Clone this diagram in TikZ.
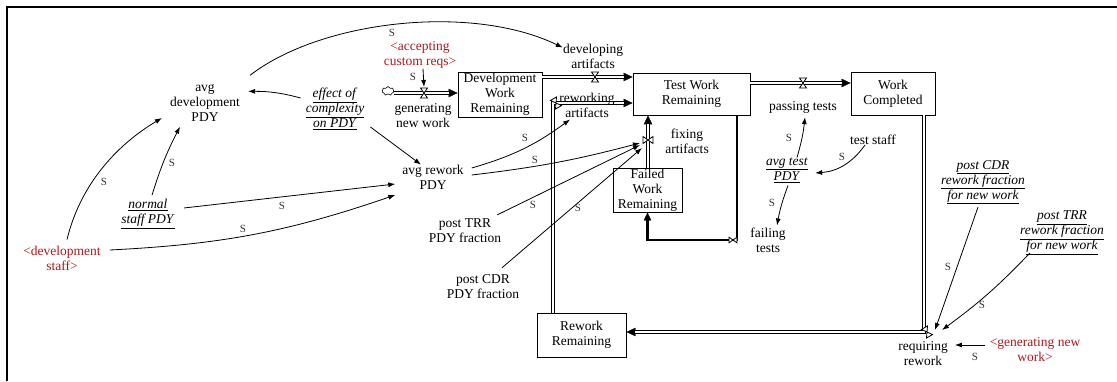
\documentclass[tikz,border=0pt]{standalone}
\usepackage{fontspec}
\setmainfont{Liberation Serif}
\usetikzlibrary{arrows.meta,shapes.symbols,calc}
\definecolor{shadowred}{RGB}{170,25,30}
\newcommand{\ulit}[1]{\underline{\textit{#1}}}
\begin{document}
\begin{tikzpicture}[x=1pt,y=1pt,
  every node/.style={font=\fontsize{13.5}{15}\selectfont, inner sep=0pt, align=center},
  stock/.style={draw, line width=.9pt, fill=white},
  shadowvar/.style={text=shadowred},
  info/.style={draw, line width=.8pt, -{Latex[length=7pt,width=5pt]}},
  pol/.style={font=\fontsize{11}{12}\selectfont, text=black!80},
  pipe/.style={line width=4pt, line join=miter, -{Triangle[length=9pt,width=8.5pt,line width=.4pt]},
    postaction={draw=white, line width=1.8pt, -, shorten >=9pt}},
  valve/.pic={\draw[line width=.8pt, fill=white] (-3.5,5) -- (3.5,5) -- (-3.5,-5) -- (3.5,-5) -- cycle;},
]
\useasboundingbox (0,0) rectangle (1117,381);
% frame
\draw[line width=2.6pt, line join=miter] (7,0) -- (7,374) -- (1117,374);

% stocks
\node[stock, minimum width=84pt, minimum height=45pt] (devwr) at (500,286.5) {Development\\Work\\Remaining};
\node[stock, minimum width=117pt, minimum height=42pt] (testwr) at (691.5,287) {Test Work\\Remaining};
\node[stock, minimum width=84pt, minimum height=43pt] (wc) at (893,287.5) {Work\\Completed};
\node[stock, minimum width=69pt, minimum height=44pt] (failed) at (647.5,191) {Failed\\Work\\Remaining};
\node[stock, minimum width=89pt, minimum height=44pt] (rework) at (581.5,46) {Rework\\Remaining};
\node[cloud, cloud puffs=7, draw, line width=.6pt, minimum width=12pt, minimum height=9pt, aspect=1.4] (cloud) at (388,290) {};

% valve positions
\coordinate (vgen) at (424,288);
\coordinate (vdev) at (595,304);
\coordinate (vrew) at (553,278);
\coordinate (vfix) at (648,241);
\coordinate (vpass) at (803,298);
\coordinate (vreq) at (924,49);
\coordinate (vfail) at (737,141);

% pipes
\draw[pipe] (cloud.east |- vgen) -- (devwr.west |- vgen);
\draw[pipe] (devwr.east |- vdev) -- (testwr.west |- vdev);
\draw[pipe] (rework.north -| vrew) -- (vrew) -- (testwr.west |- vrew);
\draw[pipe] (failed.north -| vfix) -- (testwr.south -| vfix);
\draw[pipe] (testwr.east |- vpass) -- (wc.west |- vpass);
\draw[pipe] (wc.south -| vreq) -- (vreq) -- (rework.east |- vreq);
\draw[line width=2.4pt, line join=miter, -{Triangle[length=8pt,width=7.5pt,line width=.4pt]}]
  (testwr.south -| vfail) -- (vfail) -- (failed.south |- vfail) -- (failed.south);

\pic at (vgen) {valve};
\pic at (vdev) {valve};
\pic[rotate=30] at ([xshift=3pt]vrew) {valve};
\pic[rotate=90] at (vfix) {valve};
\pic at (vpass) {valve};
\pic[rotate=30] at ([xshift=3pt]vreq) {valve};
\pic[rotate=90, scale=.8] at ([xshift=-4pt]vfail) {valve};

% flow labels
\node (lgen) at (423,265) {generating\\new work};
\node (ldev) at (593,325) {developing\\artifacts};
\node (lrew) at (587,276) {reworking\\artifacts};
\node (lfix) at (687,240) {fixing\\artifacts};
\node (lpass) at (803,274) {passing tests};
\node (lfail) at (768,141) {failing\\tests};
\node (lreq) at (923,27) {requiring\\rework};

% auxiliaries
\node (avgdev) at (205,278) {avg\\development\\PDY};
\node (effect) at (335,272) {\ulit{effect of}\\\ulit{complexity}\\\ulit{on PDY}};
\node (avgrework) at (433,204) {avg rework\\PDY};
\node[shadowvar] (accept) at (420,326) {<accepting\\custom reqs>};
\node (teststaff) at (873,241) {test staff};
\node (avgtest) at (787,211) {\ulit{avg test}\\\ulit{PDY}};
\node (postcdrrf) at (983,199) {\ulit{post CDR}\\\ulit{rework fraction}\\\ulit{for new work}};
\node (posttrrrf) at (1062,148) {\ulit{post TRR}\\\ulit{rework fraction}\\\ulit{for new work}};
\node[shadowvar] (gennewsh) at (1035,31) {<generating new\\work>};
\node (normal) at (148,167) {\ulit{normal}\\\ulit{staff PDY}};
\node[shadowvar] (devstaff) at (62,123) {<development\\staff>};
\node (posttrr) at (465,150) {post TRR\\PDY fraction};
\node (postcdr) at (483,94) {post CDR\\PDY fraction};

% information links
\draw[info] ([shift={(10pt,9pt)}]avgdev.north east) .. controls (320,360) and (470,378) .. ([yshift=-4pt]ldev.north west);
\node[pol] at (392,348) {S};
\draw[info] ([shift={(-5pt,-10pt)}]effect.north west) to[out=165,in=0] ([shift={(8pt,-7pt)}]avgdev.north east);
\draw[info] ([shift={(6pt,3pt)}]effect.south east) -- ([xshift=-12pt]avgrework.north);
\draw[info] ([shift={(5pt,6pt)}]devstaff.north) .. controls (80,195) and (115,235) .. ([shift={(-8pt,-15pt)}]avgdev.west);
\node[pol] at (104,199) {S};
\draw[info] ([shift={(4pt,4pt)}]normal.north) to[bend left=5] ([shift={(-25pt,-5pt)}]avgdev.south);
\node[pol] at (172,218) {S};
\draw[info] ([shift={(9pt,6pt)}]normal.east) -- ([shift={(-7pt,-7pt)}]avgrework.west);
\node[pol] at (282,175) {S};
\draw[info] ([shift={(9pt,8pt)}]devstaff.east) to[bend right=8] ([shift={(-7pt,-18pt)}]avgrework.west);
\node[pol] at (243,152) {S};
\draw[info] ([shift={(8pt,9pt)}]avgrework.east) to[bend right=10] ([shift={(11pt,-2pt)}]lrew.south west);
\node[pol] at (525,243) {S};
\draw[info] ([shift={(8pt,2pt)}]avgrework.east) to[bend right=4] ([shift={(-8pt,-3pt)}]vfix);
\node[pol] at (535,221) {S};
\draw[info] ([shift={(-4pt,4pt)}]posttrr.north east) -- ([shift={(-8pt,-5pt)}]vfix);
\node[pol] at (533,176) {S};
\draw[info] ([shift={(19pt,7pt)}]postcdr.north) -- ([shift={(-6pt,-8pt)}]vfix);
\node[pol] at (578,173) {S};
\draw[info] ([xshift=3pt]accept.south) -- ([yshift=6pt]vgen);
\node[pol] at (413,304) {S};
\draw[info] ([shift={(10pt,0pt)}]avgtest.north) to[bend right=5] ([shift={(2pt,-4pt)}]lpass.south);
\node[pol] at (789,243) {S};
\draw[info] ([xshift=-8pt]teststaff.south) to[bend left=25] ([shift={(7pt,-3pt)}]avgtest.east);
\node[pol] at (842,224) {S};
\draw[info] ([shift={(1pt,-3pt)}]avgtest.south) to[bend right=5] ([shift={(9pt,2pt)}]lfail.north);
\node[pol] at (772,178) {S};
\draw[info] ([shift={(-5pt,-3pt)}]postcdrrf.south) -- ([shift={(11pt,2pt)}]vreq);
\node[pol] at (948,114) {S};
\draw[info] ([shift={(10pt,2pt)}]posttrrrf.south west) to[bend left=5] ([shift={(18pt,2pt)}]vreq);
\node[pol] at (982,76) {S};
\draw[info] ([shift={(-5pt,5pt)}]gennewsh.west) -- ([shift={(7pt,9pt)}]lreq.east);
\node[pol] at (975,24) {S};
\end{tikzpicture}
\end{document}
